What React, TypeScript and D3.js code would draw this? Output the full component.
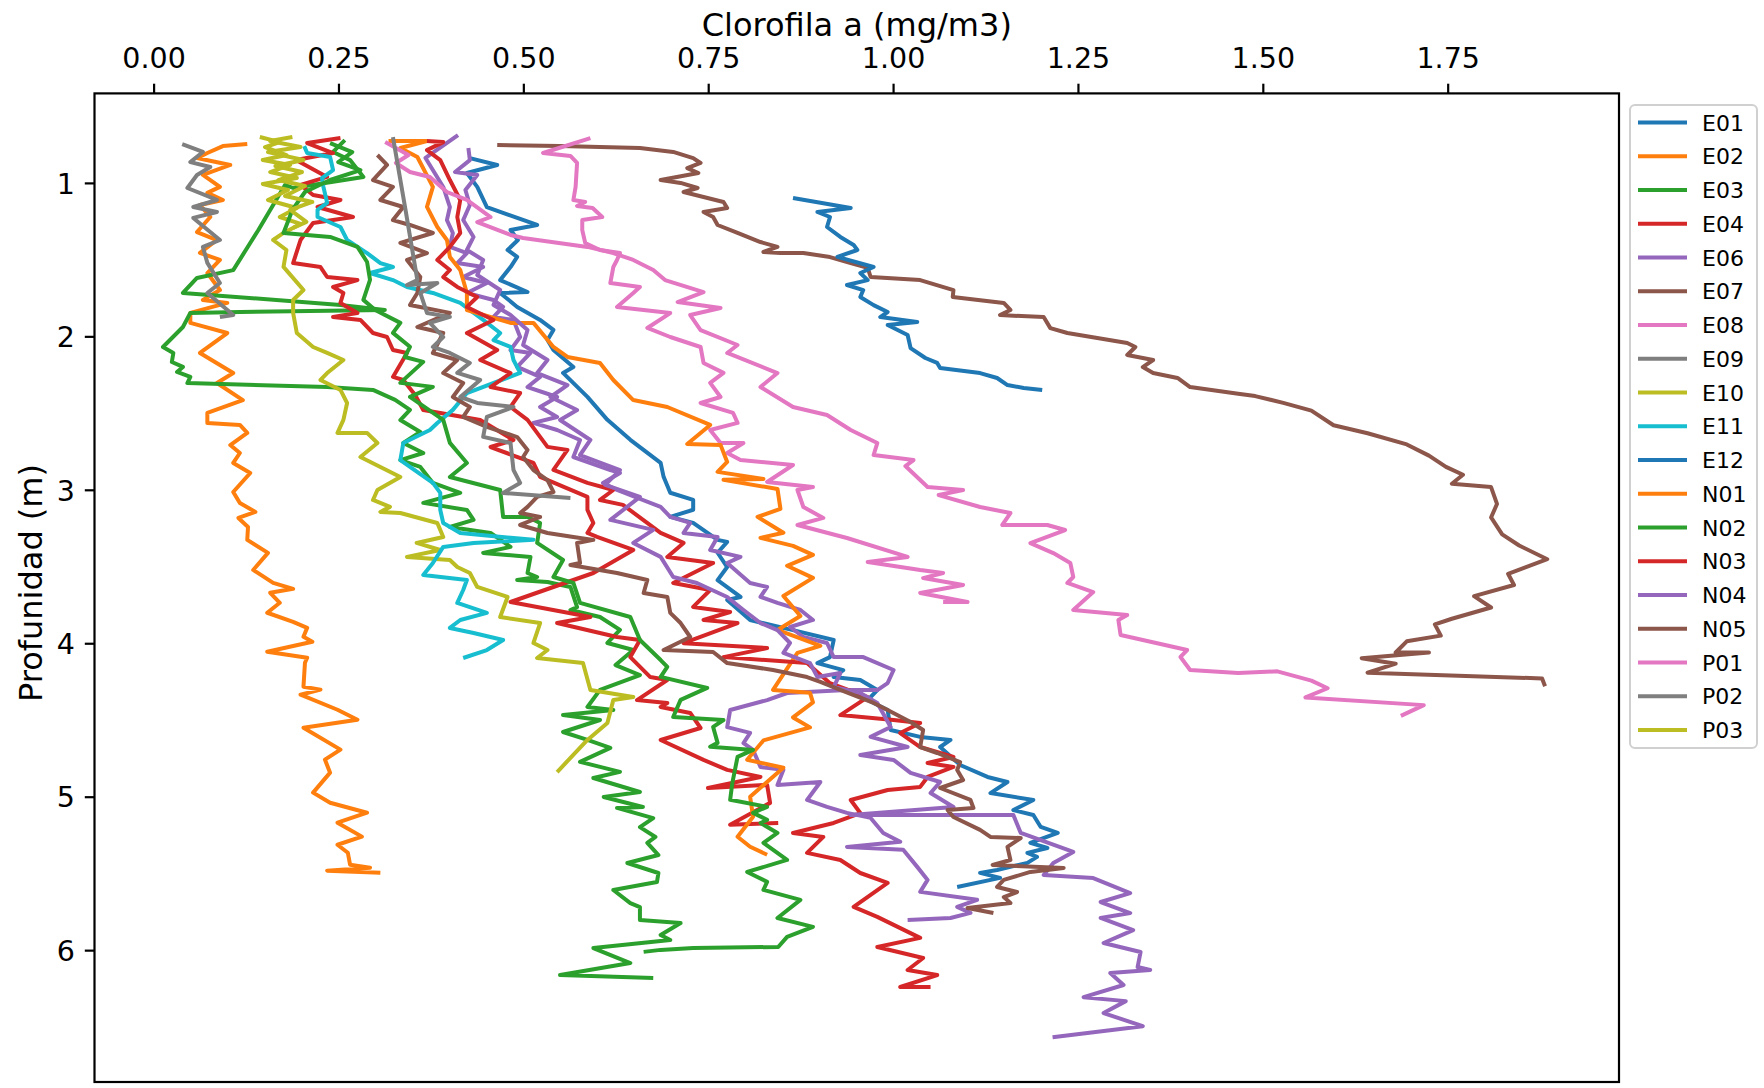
import React from 'react';
import * as d3 from 'd3';

type P = [number, number]; // [chlorophyll mg/m3, depth m]

const E01: P[] = [[0.427,0.835],[0.464,0.880],[0.423,0.932],[0.437,1.023],[0.450,1.154],[0.518,1.271],[0.482,1.304],[0.492,1.369],[0.478,1.434],[0.491,1.479],[0.482,1.545],[0.468,1.630],[0.505,1.708],[0.468,1.714],[0.491,1.805],[0.522,1.890],[0.540,1.955],[0.532,2.021],[0.540,2.086],[0.567,2.196],[0.553,2.235],[0.586,2.391],[0.613,2.541],[0.644,2.671],[0.685,2.821],[0.689,2.912],[0.698,3.016],[0.729,3.062],[0.729,3.127],[0.698,3.173],[0.729,3.212],[0.762,3.323],[0.775,3.336],[0.762,3.407],[0.775,3.500],[0.762,3.585],[0.793,3.695],[0.775,3.715],[0.806,3.846],[0.864,3.911],[0.919,3.976],[0.914,4.087],[0.897,4.126],[0.932,4.172],[0.919,4.217],[0.955,4.236],[0.978,4.302],[0.965,4.367],[0.992,4.432],[0.996,4.562],[1.036,4.607],[1.077,4.627],[1.063,4.673],[1.090,4.790],[1.127,4.868],[1.154,4.901],[1.131,4.973],[1.189,5.018],[1.162,5.084],[1.189,5.116],[1.199,5.194],[1.222,5.233],[1.185,5.298],[1.208,5.331],[1.181,5.363],[1.194,5.389],[1.181,5.428],[1.140,5.474],[1.117,5.493],[1.144,5.526],[1.086,5.585]];

const E02: P[] = [[0.126,0.744],[0.093,0.757],[0.072,0.802],[0.058,0.835],[0.103,0.880],[0.066,0.945],[0.089,1.023],[0.072,1.062],[0.093,1.108],[0.062,1.141],[0.076,1.219],[0.058,1.317],[0.085,1.369],[0.062,1.453],[0.089,1.499],[0.072,1.584],[0.089,1.695],[0.066,1.760],[0.099,1.779],[0.049,1.844],[0.049,1.909],[0.099,1.975],[0.062,2.105],[0.107,2.236],[0.085,2.301],[0.120,2.412],[0.072,2.496],[0.072,2.561],[0.116,2.574],[0.126,2.626],[0.103,2.705],[0.116,2.757],[0.107,2.822],[0.130,2.887],[0.107,3.011],[0.116,3.083],[0.137,3.141],[0.114,3.180],[0.127,3.239],[0.126,3.323],[0.154,3.408],[0.134,3.519],[0.161,3.603],[0.188,3.642],[0.157,3.668],[0.170,3.733],[0.153,3.798],[0.188,3.857],[0.207,3.896],[0.202,3.955],[0.214,3.987],[0.153,4.052],[0.207,4.091],[0.204,4.124],[0.202,4.280],[0.225,4.299],[0.198,4.332],[0.248,4.430],[0.275,4.495],[0.202,4.547],[0.252,4.690],[0.231,4.755],[0.238,4.840],[0.215,4.970],[0.238,5.036],[0.288,5.101],[0.248,5.166],[0.281,5.257],[0.248,5.310],[0.262,5.362],[0.265,5.440],[0.292,5.460],[0.234,5.479],[0.306,5.492]];

const E03: P[] = [[0.258,0.718],[0.242,0.795],[0.265,0.848],[0.283,0.958],[0.188,1.030],[0.177,1.010],[0.141,1.304],[0.107,1.565],[0.058,1.616],[0.039,1.714],[0.252,1.792],[0.312,1.825],[0.116,1.838],[0.049,1.844],[0.039,1.936],[0.012,2.066],[0.026,2.105],[0.024,2.164],[0.039,2.196],[0.031,2.229],[0.049,2.261],[0.045,2.301],[0.234,2.327],[0.296,2.346],[0.326,2.411],[0.346,2.476],[0.333,2.542],[0.360,2.620],[0.337,2.692],[0.364,2.757],[0.333,2.803],[0.360,2.848],[0.377,2.952],[0.414,3.017],[0.364,3.082],[0.423,3.128],[0.432,3.193],[0.400,3.239],[0.455,3.278],[0.482,3.369],[0.445,3.408],[0.509,3.434],[0.505,3.539],[0.518,3.565],[0.491,3.585],[0.532,3.598],[0.563,3.630],[0.572,3.761],[0.563,3.780],[0.603,3.826],[0.630,3.910],[0.613,3.995],[0.648,4.041],[0.624,4.139],[0.657,4.204],[0.603,4.301],[0.586,4.412],[0.621,4.432],[0.553,4.464],[0.603,4.497],[0.553,4.575],[0.586,4.627],[0.617,4.679],[0.576,4.770],[0.630,4.835],[0.594,4.875],[0.657,4.966],[0.608,4.999],[0.661,5.064],[0.626,5.070],[0.675,5.136],[0.657,5.195],[0.678,5.259],[0.667,5.298],[0.682,5.377],[0.640,5.429],[0.682,5.494],[0.680,5.553],[0.621,5.605],[0.644,5.690],[0.657,5.716],[0.657,5.800],[0.712,5.820],[0.685,5.898],[0.698,5.931],[0.594,5.983],[0.644,6.081],[0.549,6.159],[0.675,6.179]];

const E04: P[] = [[0.252,0.704],[0.207,0.737],[0.242,0.802],[0.192,0.848],[0.234,0.958],[0.198,1.010],[0.215,1.076],[0.252,1.108],[0.221,1.154],[0.269,1.219],[0.215,1.258],[0.198,1.369],[0.188,1.519],[0.225,1.545],[0.234,1.610],[0.275,1.630],[0.242,1.675],[0.256,1.714],[0.252,1.779],[0.275,1.844],[0.242,1.870],[0.279,1.890],[0.296,1.975],[0.315,2.001],[0.323,2.086],[0.342,2.105],[0.323,2.261],[0.337,2.281],[0.353,2.379],[0.364,2.477],[0.441,2.542],[0.486,2.672],[0.455,2.718],[0.513,2.822],[0.522,2.913],[0.586,3.043],[0.586,3.128],[0.594,3.213],[0.586,3.278],[0.599,3.304],[0.648,3.389],[0.594,3.539],[0.482,3.728],[0.590,3.826],[0.545,3.865],[0.626,3.956],[0.657,3.976],[0.644,4.087],[0.671,4.217],[0.694,4.236],[0.653,4.367],[0.694,4.386],[0.685,4.412],[0.725,4.451],[0.739,4.549],[0.685,4.627],[0.743,4.757],[0.775,4.822],[0.820,4.868],[0.749,4.940],[0.829,4.920],[0.833,5.037],[0.779,5.180],[0.844,5.168]];

const E06: P[] = [[0.411,0.685],[0.367,0.834],[0.391,1.023],[0.400,1.154],[0.396,1.239],[0.404,1.323],[0.400,1.414],[0.423,1.454],[0.410,1.519],[0.445,1.545],[0.418,1.610],[0.450,1.649],[0.423,1.714],[0.459,1.760],[0.472,1.805],[0.459,1.870],[0.486,1.890],[0.495,2.001],[0.482,2.086],[0.509,2.105],[0.491,2.196],[0.522,2.261],[0.505,2.327],[0.545,2.392],[0.522,2.457],[0.545,2.522],[0.513,2.561],[0.545,2.607],[0.576,2.672],[0.567,2.783],[0.617,2.868],[0.630,2.887],[0.607,2.952],[0.626,2.998],[0.685,3.108],[0.698,3.173],[0.725,3.212],[0.716,3.278],[0.762,3.304],[0.752,3.389],[0.793,3.434],[0.775,3.474],[0.806,3.604],[0.829,3.630],[0.820,3.695],[0.843,3.734],[0.874,3.780],[0.891,3.845],[0.860,3.891],[0.878,3.956],[0.910,3.995],[0.919,4.087],[0.959,4.087],[1.000,4.171],[0.992,4.256],[0.978,4.302],[0.937,4.302],[0.856,4.321],[0.829,4.367],[0.779,4.432],[0.775,4.543],[0.806,4.581],[0.797,4.647],[0.810,4.692],[0.820,4.803],[0.851,4.822],[0.843,4.920],[0.901,4.901],[0.883,5.018],[0.910,5.063],[0.937,5.102],[0.969,5.135],[0.986,5.233],[1.009,5.291],[0.937,5.324],[1.013,5.343],[1.032,5.454],[1.046,5.539],[1.036,5.617],[1.113,5.669],[1.086,5.715],[1.104,5.754],[1.077,5.787],[1.019,5.800]];

const E07: P[] = [[0.464,0.750],[0.549,0.756],[0.657,0.769],[0.702,0.795],[0.729,0.835],[0.739,0.867],[0.721,0.900],[0.736,0.932],[0.685,0.978],[0.712,0.997],[0.735,1.030],[0.716,1.056],[0.743,1.089],[0.770,1.121],[0.775,1.160],[0.743,1.186],[0.756,1.219],[0.762,1.271],[0.789,1.323],[0.820,1.382],[0.843,1.414],[0.824,1.447],[0.847,1.454],[0.878,1.454],[0.914,1.480],[0.942,1.519],[0.965,1.551],[0.969,1.610],[1.036,1.630],[1.081,1.695],[1.080,1.740],[1.149,1.779],[1.158,1.825],[1.144,1.858],[1.203,1.871],[1.212,1.943],[1.235,1.975],[1.316,2.040],[1.327,2.066],[1.316,2.118],[1.351,2.151],[1.337,2.197],[1.351,2.236],[1.384,2.268],[1.401,2.327],[1.466,2.371],[1.489,2.386],[1.527,2.430],[1.565,2.481],[1.595,2.576],[1.641,2.628],[1.694,2.701],[1.724,2.774],[1.747,2.847],[1.770,2.899],[1.755,2.957],[1.808,2.979],[1.816,3.089],[1.808,3.177],[1.823,3.287],[1.846,3.360],[1.884,3.449],[1.831,3.544],[1.839,3.617],[1.785,3.690],[1.808,3.764],[1.755,3.837],[1.732,3.874],[1.740,3.947],[1.694,3.984],[1.679,4.057],[1.724,4.057],[1.633,4.094],[1.679,4.130],[1.641,4.189],[1.877,4.226],[1.881,4.277]];

const E08: P[] = [[0.590,0.705],[0.526,0.802],[0.563,0.821],[0.572,0.867],[0.570,1.023],[0.567,1.108],[0.583,1.121],[0.572,1.147],[0.593,1.160],[0.606,1.219],[0.579,1.239],[0.579,1.304],[0.583,1.388],[0.603,1.434],[0.630,1.454],[0.626,1.499],[0.621,1.545],[0.617,1.649],[0.657,1.675],[0.648,1.714],[0.626,1.805],[0.698,1.845],[0.667,1.942],[0.698,2.001],[0.739,2.066],[0.743,2.170],[0.770,2.235],[0.752,2.300],[0.766,2.392],[0.739,2.431],[0.783,2.496],[0.789,2.561],[0.752,2.607],[0.766,2.692],[0.797,2.692],[0.775,2.757],[0.793,2.803],[0.864,2.835],[0.829,2.946],[0.891,2.979],[0.870,2.998],[0.878,3.109],[0.905,3.180],[0.870,3.226],[0.937,3.311],[1.019,3.434],[0.965,3.467],[1.036,3.520],[1.067,3.539],[1.040,3.572],[1.094,3.617],[1.036,3.669],[1.100,3.728],[1.067,3.728]];

const E09: P[] = [[0.038,0.744],[0.066,0.795],[0.049,0.861],[0.076,0.893],[0.058,0.945],[0.045,1.030],[0.085,1.108],[0.053,1.154],[0.085,1.186],[0.053,1.225],[0.089,1.369],[0.066,1.414],[0.072,1.518],[0.089,1.649],[0.072,1.714],[0.107,1.857],[0.089,1.870]];

const E10: P[] = [[0.143,0.698],[0.170,0.731],[0.150,0.763],[0.179,0.815],[0.147,0.848],[0.184,0.880],[0.157,0.926],[0.193,0.965],[0.147,1.004],[0.181,1.043],[0.154,1.108],[0.193,1.160],[0.170,1.219],[0.198,1.264],[0.175,1.323],[0.161,1.369],[0.179,1.434],[0.175,1.544],[0.202,1.695],[0.188,1.760],[0.188,1.844],[0.193,1.975],[0.215,2.066],[0.234,2.105],[0.256,2.151],[0.234,2.236],[0.225,2.281],[0.252,2.346],[0.261,2.431],[0.256,2.541],[0.248,2.626],[0.288,2.626],[0.302,2.692],[0.279,2.783],[0.333,2.913],[0.302,2.998],[0.296,3.063],[0.319,3.108],[0.306,3.141],[0.333,3.148],[0.383,3.213],[0.391,3.304],[0.355,3.343],[0.387,3.389],[0.342,3.434],[0.400,3.454],[0.410,3.500],[0.427,3.539],[0.437,3.630],[0.478,3.695],[0.468,3.826],[0.522,3.865],[0.513,3.995],[0.532,4.041],[0.518,4.093],[0.580,4.126],[0.590,4.302],[0.648,4.347],[0.621,4.367],[0.613,4.517],[0.586,4.627],[0.545,4.836]];

const E11: P[] = [[0.203,0.757],[0.207,0.802],[0.238,0.828],[0.242,0.913],[0.227,0.965],[0.229,1.023],[0.234,1.127],[0.221,1.173],[0.221,1.219],[0.252,1.284],[0.261,1.369],[0.288,1.454],[0.306,1.519],[0.323,1.545],[0.292,1.584],[0.323,1.630],[0.342,1.675],[0.377,1.714],[0.414,1.779],[0.445,1.890],[0.468,1.975],[0.459,2.021],[0.482,2.066],[0.486,2.151],[0.495,2.235],[0.423,2.366],[0.404,2.476],[0.383,2.561],[0.373,2.607],[0.337,2.692],[0.333,2.803],[0.377,2.952],[0.387,3.017],[0.387,3.128],[0.391,3.213],[0.414,3.278],[0.513,3.323],[0.432,3.343],[0.391,3.369],[0.377,3.474],[0.364,3.552],[0.423,3.585],[0.418,3.650],[0.410,3.734],[0.450,3.799],[0.414,3.845],[0.400,3.897],[0.432,3.930],[0.472,3.976],[0.450,4.041],[0.418,4.093]];

const E12: P[] = [[0.864,1.095],[0.942,1.160],[0.897,1.186],[0.914,1.219],[0.910,1.284],[0.928,1.349],[0.946,1.401],[0.951,1.434],[0.924,1.479],[0.973,1.545],[0.955,1.584],[0.965,1.630],[0.937,1.662],[0.959,1.695],[0.955,1.740],[0.973,1.793],[0.992,1.838],[0.982,1.871],[1.032,1.903],[0.992,1.923],[1.019,1.988],[1.023,2.073],[1.043,2.138],[1.059,2.170],[1.063,2.203],[1.117,2.236],[1.140,2.268],[1.154,2.314],[1.176,2.333],[1.201,2.346]];

const N01: P[] = [[0.317,0.724],[0.369,0.724],[0.333,0.769],[0.356,0.828],[0.377,1.023],[0.369,1.153],[0.383,1.284],[0.396,1.369],[0.400,1.479],[0.414,1.564],[0.423,1.714],[0.423,1.825],[0.482,1.909],[0.513,1.909],[0.540,2.066],[0.559,2.131],[0.603,2.170],[0.621,2.281],[0.648,2.412],[0.694,2.457],[0.752,2.574],[0.721,2.698],[0.766,2.704],[0.775,2.815],[0.762,2.880],[0.824,2.926],[0.770,2.932],[0.843,2.991],[0.847,3.121],[0.816,3.173],[0.851,3.277],[0.820,3.310],[0.864,3.362],[0.891,3.421],[0.856,3.492],[0.891,3.571],[0.851,3.689],[0.874,3.819],[0.843,3.910],[0.901,4.014],[0.870,4.060],[0.837,4.301],[0.887,4.320],[0.891,4.382],[0.864,4.480],[0.887,4.545],[0.824,4.630],[0.802,4.756],[0.851,4.808],[0.806,4.997],[0.810,5.128],[0.789,5.258],[0.806,5.323],[0.829,5.375]];

const N02: P[] = [[0.238,0.737],[0.268,0.796],[0.249,0.861],[0.279,0.913],[0.238,0.978],[0.204,1.056],[0.187,1.173],[0.175,1.323],[0.238,1.349],[0.275,1.414],[0.288,1.512],[0.292,1.629],[0.283,1.759],[0.299,1.825],[0.333,1.909],[0.323,1.974],[0.346,2.065],[0.339,2.131],[0.364,2.163],[0.333,2.300],[0.377,2.326],[0.346,2.391],[0.391,2.541],[0.400,2.691],[0.423,2.822],[0.400,2.913],[0.468,2.998],[0.472,3.174],[0.505,3.174],[0.522,3.213],[0.518,3.343],[0.553,3.454],[0.540,3.565],[0.567,3.604],[0.576,3.734],[0.644,3.826],[0.657,3.976],[0.685,4.106],[0.694,4.151],[0.685,4.216],[0.748,4.288],[0.712,4.366],[0.702,4.477],[0.770,4.497],[0.756,4.542],[0.762,4.646],[0.752,4.672],[0.810,4.692],[0.789,4.737],[0.782,4.906],[0.779,5.017],[0.829,5.063],[0.810,5.102],[0.829,5.148],[0.820,5.168],[0.843,5.233],[0.824,5.298],[0.856,5.409],[0.802,5.487],[0.829,5.552],[0.824,5.604],[0.874,5.669],[0.843,5.787],[0.891,5.845],[0.856,5.910],[0.844,5.976],[0.729,5.982],[0.685,5.995],[0.662,6.008]];

const N03: P[] = [[0.369,0.724],[0.391,0.731],[0.369,0.783],[0.387,0.848],[0.400,0.978],[0.414,1.108],[0.410,1.219],[0.414,1.323],[0.400,1.414],[0.383,1.499],[0.400,1.564],[0.391,1.610],[0.410,1.675],[0.437,1.740],[0.423,1.805],[0.459,1.890],[0.423,1.975],[0.464,2.086],[0.441,2.151],[0.482,2.236],[0.455,2.327],[0.495,2.366],[0.482,2.457],[0.505,2.541],[0.532,2.717],[0.559,2.737],[0.540,2.867],[0.586,2.952],[0.621,2.998],[0.603,3.063],[0.634,3.095],[0.685,3.278],[0.716,3.343],[0.694,3.434],[0.756,3.474],[0.702,3.604],[0.752,3.650],[0.729,3.760],[0.779,3.793],[0.743,3.845],[0.789,3.865],[0.716,3.996],[0.829,4.028],[0.770,4.087],[0.883,4.126],[0.914,4.257],[0.965,4.348],[0.928,4.465],[1.000,4.497],[1.036,4.517],[1.009,4.582],[1.036,4.673],[1.081,4.738],[1.046,4.777],[1.081,4.803],[1.046,4.868],[1.036,4.933],[0.992,4.953],[0.942,5.018],[0.955,5.103],[0.919,5.168],[0.864,5.233],[0.905,5.259],[0.883,5.363],[0.928,5.409],[0.955,5.494],[0.992,5.559],[0.946,5.715],[0.978,5.780],[1.036,5.917],[0.978,5.976],[1.040,6.048],[1.019,6.126],[1.059,6.159],[1.009,6.237],[1.050,6.237]];

const N04: P[] = [[0.425,0.770],[0.427,0.848],[0.407,0.926],[0.437,0.945],[0.421,1.043],[0.427,1.141],[0.418,1.239],[0.432,1.349],[0.423,1.434],[0.445,1.499],[0.437,1.597],[0.468,1.695],[0.459,1.792],[0.482,1.857],[0.505,1.955],[0.499,2.053],[0.532,2.151],[0.518,2.236],[0.559,2.314],[0.536,2.392],[0.572,2.477],[0.549,2.542],[0.590,2.672],[0.576,2.770],[0.630,2.868],[0.610,2.965],[0.657,3.043],[0.617,3.193],[0.675,3.258],[0.648,3.343],[0.685,3.434],[0.702,3.565],[0.734,3.604],[0.775,3.695],[0.797,3.780],[0.820,3.865],[0.843,3.911],[0.860,3.995],[0.851,4.060],[0.887,4.126],[0.897,4.217],[0.928,4.191],[0.919,4.282],[0.955,4.321],[0.978,4.386],[0.996,4.543],[0.969,4.607],[1.019,4.673],[0.955,4.725],[1.000,4.757],[1.023,4.842],[1.063,4.901],[1.050,4.973],[1.081,5.064],[0.942,5.116],[1.162,5.116],[1.172,5.233],[1.243,5.357],[1.216,5.429],[1.203,5.507],[1.270,5.527],[1.320,5.625],[1.280,5.683],[1.320,5.755],[1.280,5.787],[1.324,5.866],[1.284,5.950],[1.334,6.009],[1.330,6.107],[1.347,6.126],[1.293,6.146],[1.311,6.224],[1.257,6.303],[1.314,6.329],[1.284,6.407],[1.337,6.492],[1.215,6.564]];

const N05: P[] = [[0.302,0.815],[0.315,0.880],[0.296,0.978],[0.323,1.023],[0.306,1.108],[0.337,1.154],[0.323,1.239],[0.346,1.271],[0.377,1.323],[0.333,1.388],[0.369,1.454],[0.342,1.499],[0.360,1.610],[0.356,1.714],[0.346,1.792],[0.400,1.844],[0.356,1.936],[0.391,1.975],[0.377,2.105],[0.410,2.151],[0.391,2.236],[0.418,2.301],[0.404,2.392],[0.427,2.457],[0.418,2.522],[0.450,2.587],[0.491,2.653],[0.505,2.737],[0.499,2.783],[0.513,2.868],[0.532,2.933],[0.540,3.011],[0.518,3.043],[0.505,3.108],[0.495,3.148],[0.522,3.174],[0.495,3.226],[0.532,3.278],[0.567,3.304],[0.594,3.323],[0.572,3.343],[0.576,3.474],[0.563,3.487],[0.626,3.539],[0.667,3.585],[0.662,3.669],[0.694,3.695],[0.698,3.799],[0.712,3.865],[0.725,3.956],[0.689,4.041],[0.756,4.054],[0.775,4.126],[0.837,4.171],[0.883,4.217],[0.901,4.249],[0.928,4.301],[0.973,4.386],[0.992,4.432],[1.023,4.510],[1.040,4.562],[1.036,4.673],[1.059,4.712],[1.090,4.771],[1.086,4.823],[1.094,4.888],[1.063,4.940],[1.104,5.018],[1.108,5.070],[1.073,5.083],[1.081,5.129],[1.117,5.213],[1.131,5.259],[1.172,5.266],[1.154,5.324],[1.158,5.409],[1.134,5.442],[1.230,5.461],[1.185,5.487],[1.149,5.539],[1.140,5.585],[1.167,5.618],[1.149,5.651],[1.158,5.690],[1.100,5.722],[1.135,5.755]];

const P01: P[] = [[0.3125,0.730],[0.344,0.815],[0.327,0.867],[0.346,0.926],[0.373,0.958],[0.396,1.056],[0.423,1.108],[0.455,1.219],[0.437,1.252],[0.482,1.336],[0.499,1.356],[0.586,1.414],[0.621,1.454],[0.648,1.499],[0.675,1.564],[0.691,1.630],[0.743,1.708],[0.708,1.773],[0.766,1.812],[0.725,1.858],[0.739,1.956],[0.789,2.053],[0.775,2.105],[0.843,2.236],[0.820,2.327],[0.864,2.457],[0.910,2.509],[0.942,2.607],[0.978,2.692],[0.973,2.770],[1.027,2.803],[1.016,2.842],[1.046,2.979],[1.094,2.998],[1.061,3.031],[1.117,3.109],[1.158,3.148],[1.147,3.226],[1.208,3.226],[1.232,3.259],[1.185,3.344],[1.216,3.409],[1.239,3.474],[1.243,3.565],[1.235,3.604],[1.270,3.663],[1.243,3.780],[1.316,3.813],[1.304,3.845],[1.307,3.943],[1.397,4.041],[1.388,4.086],[1.401,4.171],[1.466,4.190],[1.519,4.180],[1.565,4.240],[1.587,4.290],[1.557,4.350],[1.717,4.400],[1.686,4.470]];

const P02: P[] = [[0.323,0.698],[0.340,1.173],[0.356,1.630],[0.342,1.662],[0.383,1.649],[0.360,1.714],[0.369,1.844],[0.400,1.870],[0.373,1.909],[0.391,2.001],[0.377,2.066],[0.400,2.105],[0.427,2.170],[0.410,2.235],[0.441,2.281],[0.414,2.392],[0.437,2.431],[0.486,2.457],[0.450,2.522],[0.445,2.652],[0.482,2.692],[0.486,2.868],[0.495,2.952],[0.472,3.017],[0.563,3.050]];

const P03: P[] = [[0.187,0.698],[0.157,0.724],[0.198,0.763],[0.154,0.796],[0.202,0.848],[0.164,0.887],[0.200,0.926],[0.168,0.978],[0.204,1.017],[0.177,1.082],[0.214,1.121],[0.184,1.173],[0.206,1.251],[0.188,1.290]];

const stations = ['E01','E02','E03','E04','E06','E07','E08','E09','E10','E11','E12','N01','N02','N03','N04','N05','P01','P02','P03'];
const seriesData: P[][] = [E01,E02,E03,E04,E06,E07,E08,E09,E10,E11,E12,N01,N02,N03,N04,N05,P01,P02,P03];
const palette = ['#1f77b4','#ff7f0e','#2ca02c','#d62728','#9467bd','#8c564b','#e377c2','#7f7f7f','#bcbd22','#17becf'];

const xTicks = [0, 0.25, 0.5, 0.75, 1.0, 1.25, 1.5, 1.75];
const yTicks = [1, 2, 3, 4, 5, 6];

const W = 1764, H = 1088;
const L = 94.5, R = 1619, T = 93.4, B = 1082;
const FONT = 'DejaVu Sans, sans-serif';

export default function App() {
  const x = d3.scaleLinear().domain([-0.0806, 1.981]).range([L, R]);
  const y = d3.scaleLinear().domain([0.4135, 6.856]).range([T, B]);
  const line = d3.line<P>().x(d => x(d[0])).y(d => y(d[1]));

  const legX = 1630, legY = 105, legW = 127, legH = 643;
  const row0 = 122.6, step = 33.75;

  return (
    <svg width={W} height={H} style={{ position: 'absolute', left: 0, top: 0, background: '#fff' }}
      xmlns="http://www.w3.org/2000/svg">
      <rect x={0} y={0} width={W} height={H} fill="#fff" />
      <defs>
        <clipPath id="plotclip"><rect x={L} y={T} width={R - L} height={B - T} /></clipPath>
      </defs>
      <g clipPath="url(#plotclip)">
        {seriesData.map((s, i) => (
          <path key={stations[i]} d={line(s) || ''} fill="none" stroke={palette[i % 10]}
            strokeWidth={4} strokeLinejoin="round" strokeLinecap="butt" />
        ))}
      </g>
      <rect x={L} y={T} width={R - L} height={B - T} fill="none" stroke="#000" strokeWidth={2.2} />
      {xTicks.map(t => (
        <g key={'x' + t}>
          <line x1={x(t)} x2={x(t)} y1={T} y2={T - 9.7} stroke="#000" strokeWidth={2.2} />
          <text x={x(t)} y={68} fontSize={28.5} fontFamily={FONT} textAnchor="middle" fill="#000">{t.toFixed(2)}</text>
        </g>
      ))}
      {yTicks.map(t => (
        <g key={'y' + t}>
          <line x1={L} x2={L - 9.7} y1={y(t)} y2={y(t)} stroke="#000" strokeWidth={2.2} />
          <text x={75} y={y(t)} dy="0.36em" fontSize={28.5} fontFamily={FONT} textAnchor="end" fill="#000">{t}</text>
        </g>
      ))}
      <text x={(L + R) / 2} y={36} fontSize={32} fontFamily={FONT} textAnchor="middle" fill="#000">Clorofila a (mg/m3)</text>
      <text transform={`translate(42,583) rotate(-90)`} fontSize={32} fontFamily={FONT} textAnchor="middle" fill="#000">Profunidad (m)</text>
      <rect x={legX} y={legY} width={legW} height={legH} rx={5} fill="#fff" fillOpacity={0.8} stroke="#d0d0d0" strokeWidth={2} />
      {stations.map((s, i) => {
        const yy = row0 + i * step;
        return (
          <g key={'leg' + s}>
            <line x1={1638} x2={1687} y1={yy} y2={yy} stroke={palette[i % 10]} strokeWidth={4} />
            <text x={1702} y={yy} dy="0.36em" fontSize={22} fontFamily={FONT} fill="#000">{s}</text>
          </g>
        );
      })}
    </svg>
  );
}
